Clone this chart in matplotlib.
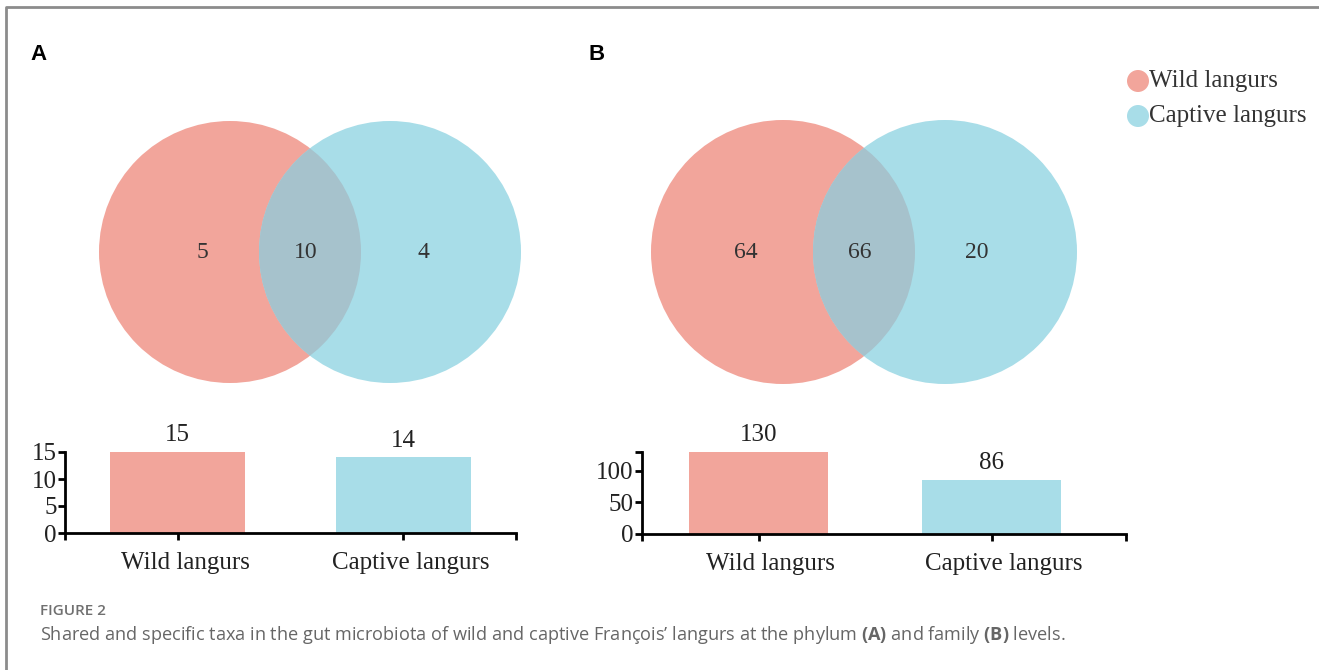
import matplotlib
matplotlib.use("Agg")
import matplotlib.pyplot as plt
import matplotlib.transforms as mtransforms
from matplotlib.patches import Circle

# data
groups = ["Wild langurs", "Captive langurs"]
phylum_counts = [15, 14]
family_counts = [130, 86]
phylum_venn = [5, 10, 4]     # wild only, shared, captive only
family_venn = [64, 66, 20]

pink = "#F2A59B"
blue = "#A8DDE8"
shared = "#A6C2CC"
serif = "Liberation Serif"

plt.rcParams["mathtext.fontset"] = "custom"
plt.rcParams["mathtext.rm"] = "Open Sans"
plt.rcParams["mathtext.bf"] = "Open Sans:bold"

W, H = 1319, 670
fig = plt.figure(figsize=(W / 100, H / 100), dpi=100)

# overlay in pixel coordinates for the venn diagrams, frame and legend
ov = fig.add_axes([0, 0, 1, 1])
ov.set_xlim(0, W)
ov.set_ylim(H, 0)
ov.axis("off")

# frame (left + top edge)
ov.plot([6, 6, W], [H, 7, 7], color="#8c8c8c", lw=2, solid_capstyle="butt")


def venn(cx1, cx2, cy, r, vals, xs):
    c1 = Circle((cx1, cy), r, color=pink, ec="none")
    c2 = Circle((cx2, cy), r, color=blue, ec="none")
    ov.add_patch(c1)
    ov.add_patch(c2)
    c3 = Circle((cx2, cy), r, color=shared, ec="none")
    ov.add_patch(c3)
    c3.set_clip_path(c1)
    for x, v in zip(xs, vals):
        ov.text(x, cy + 1, str(v), ha="center", va="center", fontsize=17,
                family=serif, color="#333333")


venn(230, 390, 252, 131, phylum_venn, [202, 306, 423])
venn(783, 945, 252, 132, family_venn, [746, 860, 977])

ov.text(30, 55, "A", fontsize=16, fontweight="bold", family="Liberation Sans",
        va="center", ha="left")
ov.text(589, 55, "B", fontsize=16, fontweight="bold", family="Liberation Sans",
        va="center", ha="left")

# legend
for y, lab, c in [(81, groups[0], pink), (116, groups[1], blue)]:
    ov.add_patch(Circle((1138, y), 11, color=c, ec="none"))
    ov.text(1149, y, lab, fontsize=18, family=serif, color="#333333",
            va="center", ha="left")

# caption
ov.text(40, 611, "FIGURE 2", fontsize=11, family="Open Sans", fontweight="semibold",
        color="#707070", va="center")
ov.text(40, 635, "Shared and specific taxa in the gut microbiota of wild and captive "
        "François\u2019 langurs at the phylum $\\mathbf{(A)}$ and family $\\mathbf{(B)}$ levels.",
        fontsize=13.1, family="Open Sans", color="#666666", va="center")


def bar_panel(left, right, base, top, ymax, ticks, labels, counts, xmax, shift):
    ax = fig.add_axes([left / W, (H - base) / H, (right - left) / W, (base - top) / H])
    ax.bar([0, 1], counts, width=0.6, color=[pink, blue])
    ax.set_xlim(-0.5, xmax)
    ax.set_ylim(0, ymax)
    ax.patch.set_alpha(0)
    for s in ["top", "right"]:
        ax.spines[s].set_visible(False)
    for s in ["left", "bottom"]:
        ax.spines[s].set_linewidth(2)
    ax.set_yticks(ticks)
    ax.set_yticklabels(labels)
    ax.set_xticks([-0.5, 0, 1, xmax])
    ax.set_xticklabels(["", groups[0], groups[1], ""])
    ax.tick_params(axis="both", width=2, length=5, direction="out",
                   labelsize=18, colors="black")
    ax.tick_params(axis="x", pad=9, labelcolor="#222222")
    ax.tick_params(axis="y", pad=1, labelcolor="#222222")
    off = mtransforms.ScaledTranslation(shift / 100, 0, fig.dpi_scale_trans)
    for lab in ax.get_xticklabels():
        lab.set_transform(lab.get_transform() + off)
    for lab in ax.get_xticklabels() + ax.get_yticklabels():
        lab.set_family(serif)
    for i, v in enumerate(counts):
        ax.annotate(str(v), (i, v), xytext=(0, 4), textcoords="offset points",
                    ha="center", va="bottom", fontsize=18, family=serif,
                    color="#222222")
    return ax


bar_panel(65, 516, 533, 452, 15, [0, 5, 10, 15], ["0", "5", "10", "15"],
          phylum_counts, 1.5, 8)
bar_panel(642, 1126, 534, 452, 130, [0, 50, 100, 130], ["0", "50", "100", ""],
          family_counts, 1.577, 12)

fig.savefig("out.png", dpi=100)
